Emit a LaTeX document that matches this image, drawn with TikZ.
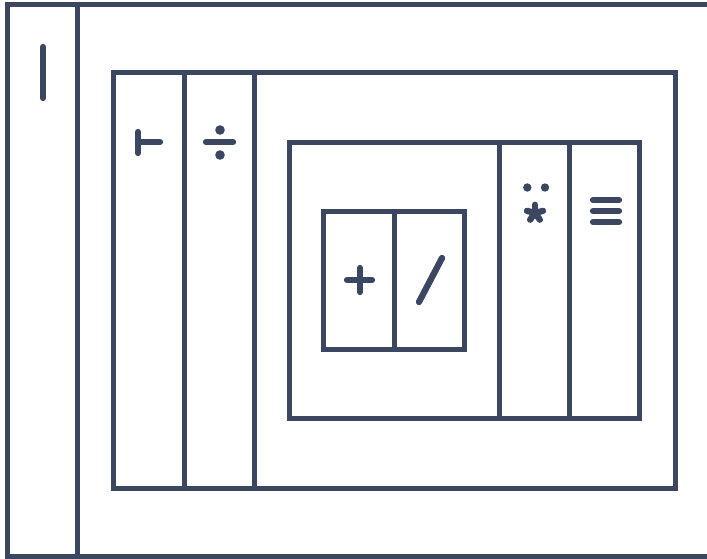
\documentclass[tikz,border=0pt]{standalone}
\usepackage{tikz}
\usetikzlibrary{calc}
\definecolor{slate}{RGB}{59,70,97}

\begin{document}
\begin{tikzpicture}[x=1pt,y=-1pt,
    box/.style={line width=5pt,draw=slate},
    glyph/.style={line width=6.3pt,line cap=round,draw=slate}]
            \clip (0,0) rectangle (707,559);
            % outer frame
            \coordinate (a1) at (7.5,4.5);
            \coordinate (a2) at (740,556.5);
            % second frame
            \coordinate (b1) at (113,73);
            \coordinate (b2) at (675.5,488);
            % third frame
            \coordinate (c1) at (289,143);
            \coordinate (c2) at (639,418);
            % inner frame
            \coordinate (d1) at (323,211);
            \coordinate (d2) at (464,349);
            %Frames
            \draw[box] (a1) rectangle (a2);
            \draw[box] (77.5,4.5) -- (77.5,556.5);
            \draw[box] (b1) rectangle (b2);
            \draw[box] (184,73) -- (184,488);
            \draw[box] (254,73) -- (254,488);
            \draw[box] (c1) rectangle (c2);
            \draw[box] (499.5,143) -- (499.5,418);
            \draw[box] (569,143) -- (569,418);
            \draw[box] (d1) rectangle (d2);
            \draw[box] (394,211) -- (394,349);
            %Symbols
            \draw[glyph] (43,47) -- (43,98);
            \draw[glyph] (138,132) -- (138,153);
            \draw[glyph] (138,142) -- (160,142);
            \draw[glyph] (206,142) -- (233,142);
            \fill[slate] (220,130) circle (4.8) (220,155) circle (4.8);
            \draw[glyph] (347,280) -- (372,280);
            \draw[glyph] (360,268) -- (360,292);
            \draw[glyph] (419,302) -- (442,258);
            \fill[slate] (527.3,187.5) circle (4.2) (545,187.5) circle (4.2);
            \coordinate (ast) at (535,213);
            \foreach \a in {15,90,165,234,306}
                \draw[glyph] (ast) -- ++(-\a:8.3);
            \foreach \y in {200,211,222}
                \draw[glyph] (593,\y) -- (619,\y);
\end{tikzpicture}
\end{document}
